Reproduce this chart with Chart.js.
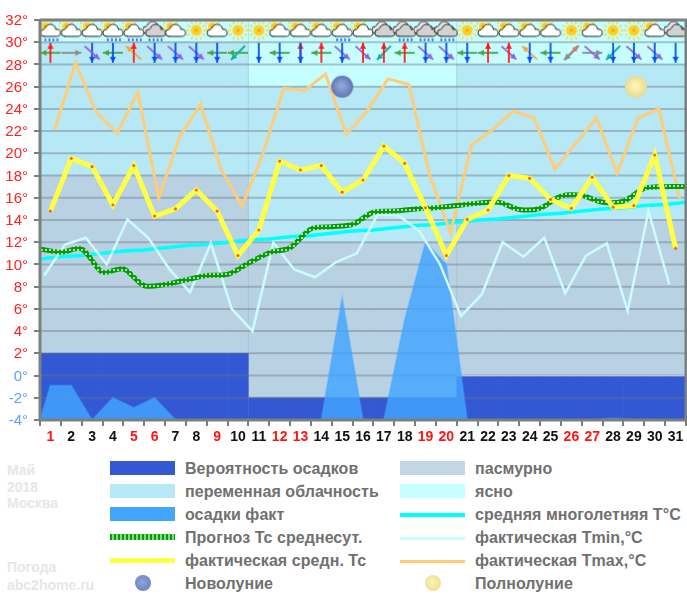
<!DOCTYPE html>
<html>
<head>
<meta charset="utf-8">
<title>Май 2018 Москва</title>
<script src="https://cdn.jsdelivr.net/npm/chart.js@4/dist/chart.umd.min.js"></script>
<style>
    html, body { margin: 0; padding: 0; background: #fff; }
    #wrap { position: relative; width: 687px; height: 599px; overflow: hidden; font-family: "Liberation Sans", Arial, sans-serif; }
    #chart { position: absolute; left: 0; top: 0; }
    .lbl { position: absolute; font-size: 16px; font-weight: bold; color: #707070; line-height: 18px; white-space: nowrap; letter-spacing: 0.05px; }
    .swatch { position: absolute; width: 65px; }
    .moon { position: absolute; width: 16px; height: 16px; border-radius: 50%; }
    .mark { position: absolute; font-size: 14px; font-weight: bold; color: #e6e6ea; line-height: 16px; white-space: nowrap; }
</style>
</head>
<body>
<div id="wrap">
    <canvas id="chart" width="687" height="450"></canvas>

    <div class="mark" style="left:7px;top:462px">Май</div>
    <div class="mark" style="left:7px;top:479px">2018</div>
    <div class="mark" style="left:7px;top:495px">Москва</div>
    <div class="mark" style="left:7px;top:559px">Погода</div>
    <div class="mark" style="left:7px;top:577px">abc2home.ru</div>

    <div class="swatch" style="left:110px;top:461px;height:14px;background:#3358d4"></div>
    <div class="swatch" style="left:110px;top:484px;height:14px;background:#b6e8f6"></div>
    <div class="swatch" style="left:110px;top:507px;height:14px;background:#42a5ff"></div>
    <div class="swatch" style="left:110px;top:534px;height:6px;background:repeating-linear-gradient(90deg,#0a9a0a 0 2px,#7fdc7f 2px 4px)"></div>
    <div class="swatch" style="left:110px;top:558px;height:5px;background:#ffff44"></div>
    <div class="moon" style="left:135px;top:575px;background:radial-gradient(circle at 45% 45%,#8fa4d6,#6078b8)"></div>

    <div class="lbl" style="left:185px;top:460px">Вероятность осадков</div>
    <div class="lbl" style="left:185px;top:483px">переменная облачность</div>
    <div class="lbl" style="left:185px;top:506px">осадки факт</div>
    <div class="lbl" style="left:185px;top:529px">Прогноз Тс среднесут.</div>
    <div class="lbl" style="left:185px;top:552px">фактическая средн. Тс</div>
    <div class="lbl" style="left:185px;top:575px">Новолуние</div>

    <div class="swatch" style="left:400px;top:461px;height:14px;background:#c2d6e6"></div>
    <div class="swatch" style="left:400px;top:484px;height:14px;background:#c6feff"></div>
    <div class="swatch" style="left:400px;top:513px;height:4px;background:#00ffff"></div>
    <div class="swatch" style="left:400px;top:537px;height:3px;background:#ccfcfc"></div>
    <div class="swatch" style="left:400px;top:560px;height:3px;background:#ffcc77"></div>
    <div class="moon" style="left:425px;top:575px;background:radial-gradient(circle at 45% 45%,#fdf2b0,#e8da8c)"></div>

    <div class="lbl" style="left:475px;top:460px">пасмурно</div>
    <div class="lbl" style="left:475px;top:483px">ясно</div>
    <div class="lbl" style="left:475px;top:506px">средняя многолетняя Т°С</div>
    <div class="lbl" style="left:475px;top:529px">фактическая Tmin,°C</div>
    <div class="lbl" style="left:475px;top:552px">фактическая Tmax,°C</div>
    <div class="lbl" style="left:475px;top:575px">Полнолуние</div>
</div>

<script>
// days of May 2018, red ones are weekends and holidays
const days = ['1','2','3','4','5','6','7','8','9','10','11','12','13','14','15','16','17','18','19','20','21','22','23','24','25','26','27','28','29','30','31'];
const redDays = ['1','5','6','9','12','13','19','20','26','27'];

// background bands, top edge of each one per day (axis bottom is -4, top is 32)
const rainProbTop = [2,2,2,2,2,2,2,2,2,2,-2,-2,-2,-2,-2,-2,-2,-2,-2,-2,0,0,0,0,0,0,0,0,0,0,0];
const overcastTop = [18,18,18,18,18,18,18,18,18,18,12,12,12,12,12,12,12,12,12,12,14,14,14,14,14,14,14,14,14,14,14];
const partlyTop = [30,30,30,30,30,30,30,30,30,30,26,26,26,26,26,26,26,26,26,26,28,28,28,28,28,28,28,28,28,28,28];

// temperatures, one per day
const tAvg = [14.8,19.55,18.8,15.35,18.9,14.35,15.0,16.7,14.8,10.8,13.1,19.3,18.5,18.9,16.5,17.6,20.65,19.1,15.1,10.8,14.05,14.9,18.0,17.75,15.85,15.05,17.85,15.15,15.3,19.85,11.45];
const tMin = [9.0,11.8,12.4,10.0,14.05,12.4,9.6,7.5,11.9,6.0,4.0,11.95,9.55,8.85,10.2,11.0,14.5,14.4,13.0,10.0,5.35,7.3,12.0,10.7,12.4,7.4,10.8,11.9,5.8,14.8,8.2];
const tMax = [22.1,28.15,23.7,21.8,25.5,15.95,21.5,24.4,18.5,15.25,20.0,25.85,25.65,27.15,21.7,23.8,26.7,26.2,18.05,12.8,20.75,22.1,23.8,23.2,18.6,20.85,23.2,18.2,23.2,24.0,15.85];

// these two are read at the day boundaries, 0.5 .. 31.5
const forecast = [11.4,11.1,11.4,9.3,9.6,8.1,8.2,8.6,9.0,9.1,10.1,11.05,11.5,13.2,13.4,13.6,14.7,14.8,15.0,15.1,15.3,15.5,15.6,14.95,15.05,16.15,16.2,15.6,15.7,16.85,17.0,17.0];
const normal = [10.5,10.7,10.8,11.0,11.2,11.3,11.5,11.7,11.8,12.0,12.2,12.3,12.5,12.6,12.8,13.0,13.1,13.3,13.5,13.6,13.8,14.0,14.1,14.3,14.5,14.6,14.8,15.0,15.1,15.3,15.4,15.6];

// measured precipitation as area height on the temperature axis
const precipX = [0.5,1,2,3,4,5,6,7,14,15,16,17,18,19,20,21,27,28,29,30];
const precipY = [-4,-0.9,-0.9,-4,-2,-2.9,-2,-4,-4,7,-4,-4,5,12,10,-4,-4,-3.85,-3.95,-4];

// sky icon per day: p = sun and cloud, s = sun, o = overcast
const sky = ['p','p','p','p','p','o','p','s','p','s','s','p','p','p','p','p','o','o','o','o','s','p','p','p','p','s','p','s','s','p','o'];
const rainyDays = ['1','4','5','6','15','18','19','20'];

// wind arrows per day, direction the arrow is pointing to ('' = none)
const windA = ['W','E','S','W','NW','SE','SE','SE','W','W','','W','N','W','SE','SE','SW','W','SE','SE','W','W','SE','NW','W','SW','E','SW','SE','SE',''];
const windB = ['N','','SE','S','N','S','S','S','S','SW','S','S','S','N','S','N','N','N','S','S','S','N','N','S','S','NE','SE','S','S','S','S'];

// moons: [day, height on the axis]
const newMoon = [[15, 26]];
const fullMoon = [[29.1, 26]];

const windColors = { N: '#ff1a1a', S: '#0a50f0', W: '#45a845', E: '#8c8c8c', SE: '#8a62e0', NW: '#f0a830', SW: '#10b0a0', NE: '#e07070' };
const windVec = { N: [0, -1], S: [0, 1], W: [-1, 0], E: [1, 0], SE: [0.75, 0.66], NW: [-0.75, -0.66], SW: [-0.7, 0.7], NE: [0.7, -0.7] };

function makeCanvas(w, h) {
    const c = document.createElement('canvas');
    c.width = w;
    c.height = h;
    return c;
}

function cloud(g, x, y, fill) {
    g.beginPath();
    g.moveTo(x + 3, y + 12);
    g.arc(x + 3.5, y + 8.5, 3.5, Math.PI * 0.5, Math.PI * 1.5);
    g.arc(x + 10, y + 5.5, 5.5, Math.PI * 1.1, Math.PI * 1.85);
    g.arc(x + 16.5, y + 8.5, 3.5, Math.PI * 1.4, Math.PI * 0.5);
    g.closePath();
    g.fillStyle = fill;
    g.fill();
    g.strokeStyle = '#222';
    g.lineWidth = 1;
    g.stroke();
}

function sun(g, x, y, r) {
    g.strokeStyle = '#ffd21e';
    g.lineWidth = 1.2;
    for (let i = 0; i < 12; i++) {
        const a = i * Math.PI / 6;
        g.beginPath();
        g.moveTo(x + Math.cos(a) * (r + 1.5), y + Math.sin(a) * (r + 1.5));
        g.lineTo(x + Math.cos(a) * (r + 5), y + Math.sin(a) * (r + 5));
        g.stroke();
    }
    g.beginPath();
    g.arc(x, y, r, 0, Math.PI * 2);
    g.fillStyle = '#ffd21e';
    g.fill();
    g.fillStyle = '#f4a62a';
    g.fillRect(x - 1.5, y - 1.5, 3, 3);
}

function skyIcon(kind, rainy) {
    const c = makeCanvas(24, 30);
    const g = c.getContext('2d');
    if (kind === 's') {
        sun(g, 12, 12, 5.5);
    } else if (kind === 'p') {
        sun(g, 7, 8, 4);
        cloud(g, 2, 6, '#ffffff');
    } else {
        cloud(g, 0, 3, '#e2e2e2');
        cloud(g, 3, 6, '#d2d2d2');
    }
    if (rainy) {
        g.fillStyle = '#3d86f0';
        [7, 11, 15, 19].forEach(function(x) { g.fillRect(x - 1, 20, 2, 3); });
    }
    return c;
}

function windArrow(dir) {
    const c = makeCanvas(24, 24);
    if (!dir) return c;
    const g = c.getContext('2d');
    const v = windVec[dir];
    const len = 10;
    const tx = 12 + v[0] * len, ty = 12 + v[1] * len;
    g.strokeStyle = windColors[dir];
    g.fillStyle = windColors[dir];
    g.lineWidth = 1.8;
    g.beginPath();
    g.moveTo(12 - v[0] * len, 12 - v[1] * len);
    g.lineTo(tx, ty);
    g.stroke();
    // arrow head
    g.beginPath();
    g.moveTo(tx, ty);
    g.lineTo(tx - v[0] * 6 - v[1] * 3, ty - v[1] * 6 + v[0] * 3);
    g.lineTo(tx - v[0] * 6 + v[1] * 3, ty - v[1] * 6 - v[0] * 3);
    g.closePath();
    g.fill();
    return c;
}

function moonIcon(c1, c2) {
    const c = makeCanvas(24, 24);
    const g = c.getContext('2d');
    const grad = g.createRadialGradient(11, 11, 2, 12, 12, 11);
    grad.addColorStop(0, c1);
    grad.addColorStop(1, c2);
    g.fillStyle = grad;
    g.beginPath();
    g.arc(12, 12, 11, 0, Math.PI * 2);
    g.fill();
    return c;
}

// chain look of the forecast line
function chainPattern(ctx) {
    const c = makeCanvas(4, 4);
    const g = c.getContext('2d');
    g.fillStyle = '#0b980b';
    g.fillRect(0, 0, 4, 4);
    g.fillStyle = '#9ce89c';
    g.fillRect(1, 1, 2, 2);
    return ctx.createPattern(c, 'repeat');
}

function band(lo, hi) {
    return lo.map(function(v, i) { return [v, hi[i]]; });
}

function onDays(values, shift) {
    return values.map(function(v, i) { return { x: i + 1 + shift, y: v }; });
}

function onEdges(values) {
    return values.map(function(v, i) { return { x: i + 0.5, y: v }; });
}

function barSet(data, color) {
    return { type: 'bar', data: data, backgroundColor: color, barPercentage: 1, categoryPercentage: 1, grouped: false, order: 10, xAxisID: 'x', yAxisID: 'y' };
}

function lineSet(data, color, width, extra) {
    return Object.assign({ type: 'line', data: data, borderColor: color, borderWidth: width, pointRadius: 0, tension: 0, xAxisID: 'xd', yAxisID: 'y' }, extra || {});
}

function iconSet(data, icons, order) {
    return { type: 'scatter', data: data, pointStyle: icons, pointRadius: 10, order: order, xAxisID: 'xd', yAxisID: 'y' };
}

const bottomAll = days.map(function() { return -4; });
const topAll = days.map(function() { return 32; });

// horizontal lines go over the bands but under everything else
const bandGrid = {
    id: 'bandGrid',
    afterDatasetDraw(chart, args) {
        if (args.index !== 0) return;
        const g = chart.ctx, a = chart.chartArea, y = chart.scales.y, x = chart.scales.xd;
        g.save();
        g.strokeStyle = 'rgba(105,115,130,0.42)';
        g.lineWidth = 2;
        y.ticks.forEach(function(t) {
            const p = y.getPixelForValue(t.value);
            g.beginPath();
            g.moveTo(a.left, p);
            g.lineTo(a.right, p);
            g.stroke();
        });
        // faint seam where the forecast period changes
        g.strokeStyle = 'rgba(120,150,170,0.25)';
        g.lineWidth = 1;
        for (let i = 1; i < partlyTop.length; i++) {
            if (partlyTop[i] !== partlyTop[i - 1]) {
                const p = x.getPixelForValue(i + 0.5);
                g.beginPath();
                g.moveTo(p, a.top);
                g.lineTo(p, a.bottom);
                g.stroke();
            }
        }
        g.restore();
    },
    afterDraw(chart) {
        const g = chart.ctx, a = chart.chartArea;
        g.save();
        g.strokeStyle = '#7a8080';
        g.lineWidth = 3;
        g.beginPath();
        g.moveTo(a.left, a.top);
        g.lineTo(a.right, a.top);
        g.lineTo(a.right, a.bottom);
        g.lineTo(a.left, a.bottom);
        g.lineTo(a.left, a.top);
        g.stroke();
        g.restore();
    }
};

document.addEventListener('DOMContentLoaded', function() {
    const ctx = document.getElementById('chart').getContext('2d');

    const skyIcons = sky.map(function(k, i) { return skyIcon(k, rainyDays.includes(days[i])); });
    const newIcon = moonIcon('#8fa4d6', '#5f76b6');
    const fullIcon = moonIcon('#fdf3b4', '#e9db90');

    new Chart(ctx, {
        data: {
            labels: days,
            datasets: [
                barSet(band(bottomAll, rainProbTop), '#3358d4'),
                barSet(band(rainProbTop, overcastTop), '#b8d2e4'),
                barSet(band(overcastTop, partlyTop), '#b6e8f6'),
                barSet(band(partlyTop, topAll), '#c6feff'),
                lineSet(precipX.map(function(x, i) { return { x: x, y: precipY[i] }; }), 'rgba(66,165,255,0.35)', 2, { fill: 'start', backgroundColor: 'rgba(66,165,255,0.82)', order: 8 }),
                lineSet(onEdges(normal), '#00ffff', 3.5, { order: 6 }),
                lineSet(onDays(tMin, -0.3), '#ccfcfc', 2.5, { order: 5 }),
                lineSet(onDays(tMax, 0.2), '#ffcc77', 3, { order: 4 }),
                lineSet(onEdges(forecast), chainPattern(ctx), 5, { tension: 0.3, order: 3 }),
                lineSet(onDays(tAvg, 0), '#ffff44', 5, { order: 2, pointRadius: 1.6, pointBackgroundColor: '#f26a2a', pointBorderWidth: 0 }),
                iconSet(days.map(function(d, i) { return { x: i + 1, y: 30.8 }; }), skyIcons, 1),
                iconSet(days.map(function(d, i) { return { x: i + 1, y: 29.05 }; }), windA.map(windArrow), 1),
                iconSet(days.map(function(d, i) { return { x: i + 1, y: 29.05 }; }), windB.map(windArrow), 0),
                iconSet(newMoon.map(function(m) { return { x: m[0], y: m[1] }; }), [newIcon], 0),
                iconSet(fullMoon.map(function(m) { return { x: m[0], y: m[1] }; }), [fullIcon], 0)
            ]
        },
        plugins: [bandGrid],
        options: {
            responsive: false,
            devicePixelRatio: 1,
            animation: false,
            layout: { autoPadding: false, padding: { top: 20, right: 1, left: 0, bottom: 0 } },
            plugins: { legend: { display: false }, tooltip: { enabled: false } },
            scales: {
                x: {
                    type: 'category',
                    offset: true,
                    afterFit: function(s) { s.height = 30; },
                    grid: { drawOnChartArea: false, drawTicks: true, tickLength: 6, color: '#7a8080', lineWidth: 2, offset: true },
                    border: { display: false },
                    ticks: {
                        autoSkip: false,
                        maxRotation: 0,
                        padding: 3,
                        font: { family: '"Liberation Sans", Arial, sans-serif', size: 14, weight: 'bold' },
                        color: function(c) { return redDays.includes(days[c.index]) ? '#ff1414' : '#101010'; }
                    }
                },
                xd: { type: 'linear', display: false, min: 0.5, max: 31.5 },
                y: {
                    min: -4,
                    max: 32,
                    afterFit: function(s) { s.width = 40; },
                    grid: { drawOnChartArea: false, drawTicks: true, tickLength: 6, color: '#7a8080', lineWidth: 2 },
                    border: { display: false },
                    ticks: {
                        stepSize: 2,
                        padding: 6,
                        labelOffset: 1,
                        font: { family: '"Liberation Sans", Arial, sans-serif', size: 15 },
                        color: function(c) { return c.tick.value > 0 ? '#ff2020' : '#5aa2ff'; },
                        callback: function(v) { return v + '°'; }
                    }
                }
            }
        }
    });
});
</script>
</body>
</html>
